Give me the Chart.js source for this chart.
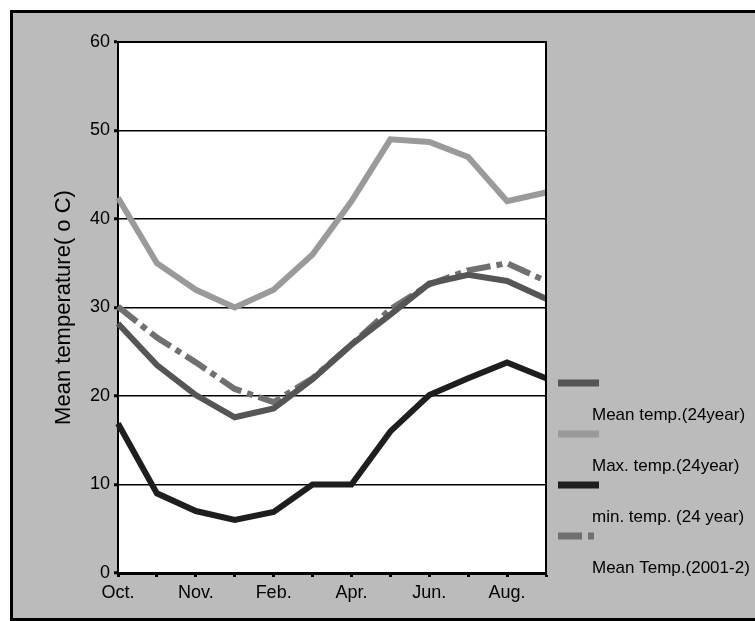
<!DOCTYPE html>
<html>
<head>
<meta charset="utf-8">
<script src="https://cdn.jsdelivr.net/npm/chart.js@4/dist/chart.umd.min.js"></script>
<style>
  body { margin: 0; background: #fff; }
  canvas { display: block; }
</style>
</head>
<body>
<canvas id="c" width="755" height="621"></canvas>
<script>
// category labels (Excel showed every other one)
const tickLabels = ['Oct.', '', 'Nov.', '', 'Feb.', '', 'Apr.', '', 'Jun.', '', 'Aug.', ''];

const meanTemp24 = [28.2, 23.5, 20.1, 17.6, 18.6, 21.9, 25.8, 29.2, 32.7, 33.7, 33.0, 31.0];
const maxTemp24 = [42.4, 35.0, 32.0, 30.0, 32.0, 36.0, 42.0, 49.0, 48.7, 47.0, 42.0, 43.0];
const minTemp24 = [16.9, 9.0, 7.0, 6.0, 6.9, 10.0, 10.0, 16.0, 20.1, 22.0, 23.8, 22.0];
const meanTemp2001 = [30.1, 26.6, 23.8, 20.8, 19.3, 22.0, 25.8, 29.8, 32.6, 34.2, 35.0, 33.0];

const FONT = "'Liberation Sans', Arial, sans-serif";

const frame = {
  id: 'frame',
  beforeDraw(chart) {
    const ctx = chart.ctx;
    const a = chart.chartArea;
    ctx.save();
    ctx.fillStyle = '#ffffff';
    ctx.fillRect(0, 0, chart.width, chart.height);
    ctx.fillStyle = '#bbbbbb';
    ctx.fillRect(10, 10, chart.width - 10, chart.height - 10);
    ctx.strokeStyle = '#000';
    ctx.lineWidth = 3;
    ctx.beginPath();
    ctx.moveTo(chart.width, 11.5);
    ctx.lineTo(11.5, 11.5);
    ctx.lineTo(11.5, 619.5);
    ctx.lineTo(chart.width, 619.5);
    ctx.stroke();
    ctx.fillStyle = '#ffffff';
    ctx.fillRect(a.left, a.top, a.right - a.left, a.bottom - a.top);
    ctx.restore();
  },
  afterDatasetsDraw(chart) {
    const ctx = chart.ctx;
    const a = chart.chartArea;
    ctx.save();
    ctx.strokeStyle = '#000';
    ctx.lineWidth = 2;
    ctx.beginPath();
    ctx.moveTo(a.left, a.top);
    ctx.lineTo(a.right, a.top);
    ctx.lineTo(a.right, a.bottom);
    ctx.stroke();
    ctx.restore();
  }
};

// legend laid out like the original: swatch, then label underneath
const sideLegend = {
  id: 'sideLegend',
  afterDraw(chart) {
    const ctx = chart.ctx;
    ctx.save();
    ctx.font = '17px ' + FONT;
    ctx.textBaseline = 'middle';
    ctx.fillStyle = '#000';
    chart.data.datasets.forEach(function(ds, i) {
      const y = 383 + i * 51;
      ctx.strokeStyle = ds.borderColor;
      ctx.lineWidth = 7;
      ctx.setLineDash(ds.borderDash || []);
      ctx.beginPath();
      ctx.moveTo(558, y);
      ctx.lineTo(599, y);
      ctx.stroke();
      ctx.setLineDash([]);
      ctx.fillText(ds.label, 592, y + 32);
    });
    ctx.restore();
  }
};

new Chart(document.getElementById('c'), {
  type: 'line',
  data: {
    labels: tickLabels,
    datasets: [
      { label: 'Mean temp.(24year)', data: meanTemp24, borderColor: '#555555' },
      { label: 'Max. temp.(24year)', data: maxTemp24, borderColor: '#9a9a9a' },
      { label: 'min. temp. (24 year)', data: minTemp24, borderColor: '#1e1e1e' },
      { label: 'Mean Temp.(2001-2)', data: meanTemp2001, borderColor: '#707070', borderDash: [24, 6, 6, 6] }
    ]
  },
  options: {
    responsive: false,
    animation: false,
    layout: { padding: { left: 12, top: 42, right: 209, bottom: 0 } },
    elements: {
      line: { borderWidth: 6, tension: 0, fill: false },
      point: { radius: 0 }
    },
    plugins: {
      legend: { display: false },
      tooltip: { enabled: false }
    },
    scales: {
      x: {
        afterFit(scale) { scale.height = 48; },
        grid: { drawOnChartArea: false, drawTicks: true, tickLength: 4, tickWidth: 3, tickColor: '#000' },
        border: { display: true, color: '#000', width: 3 },
        ticks: { autoSkip: false, maxRotation: 0, color: '#000', font: { family: FONT, size: 18 }, padding: 5 }
      },
      y: {
        min: 0,
        max: 60,
        afterFit(scale) { scale.width = 106; },
        grid: { color: '#000', lineWidth: 1.5, tickLength: 4, tickWidth: 3, tickColor: '#000' },
        border: { display: true, color: '#000', width: 2 },
        ticks: { stepSize: 10, color: '#000', font: { family: FONT, size: 18 }, padding: 4 },
        title: {
          display: true,
          text: 'Mean temperature( o C)',
          color: '#000',
          font: { family: FONT, size: 22 },
          padding: { top: 39 }
        }
      }
    }
  },
  plugins: [frame, sideLegend]
});
</script>
</body>
</html>
